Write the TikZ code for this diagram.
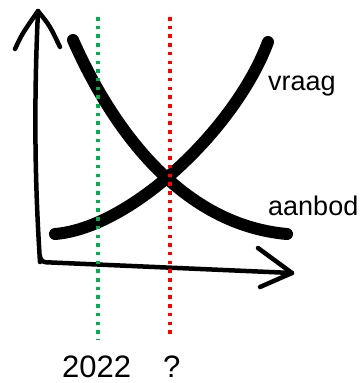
\documentclass[tikz,border=0pt]{standalone}
\usepackage{fontspec}
\setmainfont{Liberation Sans}
\usetikzlibrary{positioning, calc}

\begin{document}
\begin{tikzpicture}[
    x=1pt, y=-1pt,
    axis/.style={line width=4.5pt, line cap=round, line join=round},
    curve/.style={line width=12pt, line cap=round},
    guide/.style={line width=3.5pt, dash pattern=on 3.5pt off 5.2pt},
    label/.style={inner sep=0pt, anchor=base west, font=\fontsize{27}{30}\selectfont},
    year/.style={inner sep=0pt, anchor=base west, font=\fontsize{31}{34}\selectfont}
]
    \useasboundingbox (0,0) rectangle (360,383);

    % Axes
    \coordinate (origin) at (40,262);
    \coordinate (ytip) at (38,11);
    \coordinate (xtip) at (292,273);
    \draw[axis] (ytip) .. controls (33,120) and (36,200) .. (origin)
        [rounded corners=6pt] -- (origin) -- (xtip);
    \draw[axis] (15,49) .. controls (22,34) .. (ytip) .. controls (50,26) .. (60,47);
    \draw[axis] (258,248) -- (xtip) -- (260,287);

    % Curves
    \coordinate (d0) at (73,40);
    \coordinate (d1) at (287,234);
    \coordinate (s0) at (55,234);
    \coordinate (s1) at (268,42);
    \draw[curve] (d0) .. controls (115,135) and (185,225) .. (d1);
    \draw[curve] (s0) .. controls (130,228) and (235,130) .. (s1);

    % Dotted guides
    \coordinate (g0) at (98,17);
    \coordinate (g1) at (98,340);
    \coordinate (r0) at (170,17);
    \coordinate (r1) at (170,338);
    \draw[guide, color={rgb,255:red,0;green,176;blue,80}] (g0) -- (g1);
    \draw[guide, color={rgb,255:red,255;green,0;blue,0}] (r0) -- (r1);

    % Labels
    \node[label] (vraag) at (268,90) {vraag};
    \node[label] (aanbod) at (268,215) {aanbod};
    \node[year] (now) at (62,377) {2022};
    \node[year] (later) at (163,377) {?};
\end{tikzpicture}
\end{document}
